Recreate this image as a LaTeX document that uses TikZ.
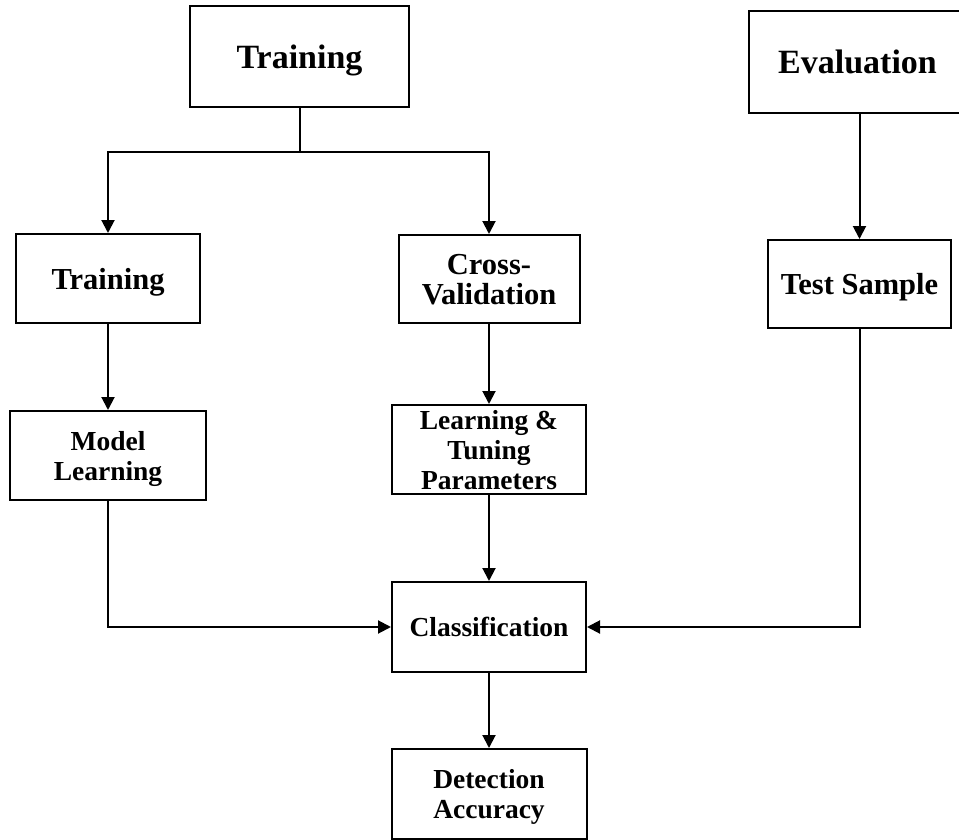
\documentclass[tikz,border=0pt]{standalone}
\usepackage{fontspec}
\setmainfont{Liberation Serif}
\usetikzlibrary{arrows.meta}

\tikzset{
    block/.style={draw, line width=1pt, inner sep=0pt, align=center, text depth=0pt},
    bigtxt/.style={font=\fontsize{17}{18}\selectfont\bfseries},
    midtxt/.style={font=\fontsize{15.25}{15}\selectfont\bfseries},
    smalltxt/.style={font=\fontsize{13.75}{15}\selectfont\bfseries},
    flow/.style={line width=1pt, -{Triangle[length=6.5pt, width=6.5pt]}},
}

\begin{document}
\begin{tikzpicture}[x=0.5pt, y=-0.5pt]
    % page frame
    \useasboundingbox (0, 0) rectangle (959, 840);

    % top level
    \node[block, bigtxt, minimum width=109.5pt, minimum height=50.5pt] (trainTop) at (299.5, 56.5) {Training};
    \node[block, bigtxt, minimum width=108.5pt, minimum height=51pt] (evaluation) at (857.5, 62) {Evaluation};

    % second level
    \node[block, midtxt, minimum width=92pt, minimum height=44.5pt] (training) at (108, 278.5) {Training};
    \node[block, midtxt, minimum width=90.5pt, minimum height=44pt] (crossVal) at (489, 279) {Cross-\\Validation};
    \node[block, midtxt, minimum width=91.5pt, minimum height=44pt] (testSample) at (859.5, 284) {Test Sample};

    % third level
    \node[block, smalltxt, minimum width=98pt, minimum height=44.5pt] (modelLearn) at (108, 455.5) {Model\\Learning};
    \node[block, smalltxt, minimum width=97pt, minimum height=44.5pt] (tuning) at (489, 449.5) {Learning \&\\Tuning\\Parameters};

    % bottom
    \node[block, smalltxt, minimum width=97pt, minimum height=45pt] (classif) at (489, 627) {Classification};
    \node[block, smalltxt, minimum width=97.5pt, minimum height=45pt] (detection) at (489, 794) {Detection\\Accuracy};

    % split from the training set
    \coordinate (split) at (trainTop.south |- 0,152);
    \draw[line width=1pt] (trainTop.south) -- (split);
    \draw[flow] (split) -| (training.north);
    \draw[flow] (split) -| (crossVal.north);

    % straight down
    \draw[flow] (evaluation.south -| testSample.north) -- (testSample.north);
    \draw[flow] (training) -- (modelLearn);
    \draw[flow] (crossVal) -- (tuning);
    \draw[flow] (tuning) -- (classif);
    \draw[flow] (classif) -- (detection);

    % into the classifier
    \draw[flow] (modelLearn.south) |- (classif.west);
    \draw[flow] (testSample.south) |- (classif.east);
\end{tikzpicture}
\end{document}
